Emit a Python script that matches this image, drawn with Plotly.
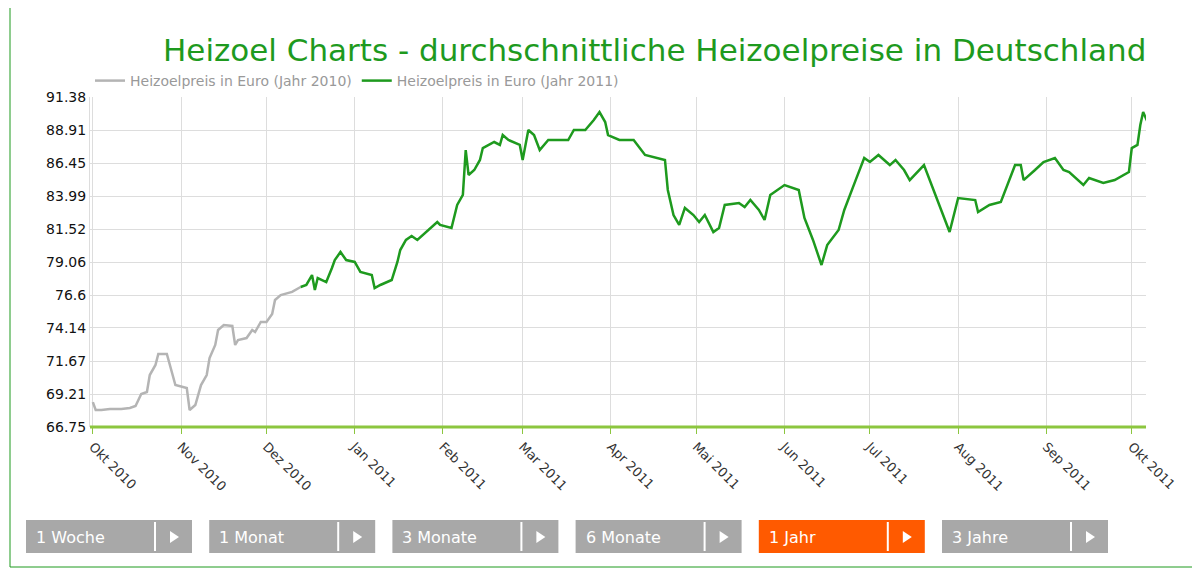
import plotly.graph_objects as go

dates_2010 = ["2010-10-01","2010-10-02","2010-10-04","2010-10-07","2010-10-11","2010-10-14","2010-10-16","2010-10-18","2010-10-20","2010-10-21","2010-10-23","2010-10-24","2010-10-27","2010-10-28","2010-10-30","2010-11-03","2010-11-04","2010-11-06","2010-11-08","2010-11-10","2010-11-11","2010-11-13","2010-11-14","2010-11-16","2010-11-19","2010-11-20","2010-11-21","2010-11-24","2010-11-26","2010-11-27","2010-11-29","2010-12-01","2010-12-03","2010-12-04","2010-12-06","2010-12-10","2010-12-13"]
vals_2010 = [68.61,68.02,68.02,68.09,68.09,68.17,68.32,69.21,69.36,70.63,71.38,72.20,72.20,71.38,69.88,69.66,68.02,68.39,69.88,70.63,71.90,72.87,73.99,74.36,74.29,72.87,73.24,73.39,73.99,73.84,74.59,74.59,75.18,76.23,76.60,76.83,77.20]

dates_2011 = ["2010-12-13","2010-12-15","2010-12-17","2010-12-18","2010-12-19","2010-12-22","2010-12-24","2010-12-25","2010-12-27","2010-12-29","2011-01-01","2011-01-03","2011-01-07","2011-01-08","2011-01-10","2011-01-14","2011-01-16","2011-01-17","2011-01-19","2011-01-21","2011-01-23","2011-01-26","2011-01-30","2011-01-31","2011-02-04","2011-02-06","2011-02-08","2011-02-09","2011-02-10","2011-02-12","2011-02-14","2011-02-15","2011-02-19","2011-02-21","2011-02-22","2011-02-24","2011-02-28","2011-03-01","2011-03-03","2011-03-05","2011-03-07","2011-03-10","2011-03-17","2011-03-19","2011-03-23","2011-03-26","2011-03-28","2011-03-30","2011-03-31","2011-04-04","2011-04-09","2011-04-13","2011-04-20","2011-04-21","2011-04-23","2011-04-25","2011-04-27","2011-04-30","2011-05-02","2011-05-04","2011-05-07","2011-05-09","2011-05-11","2011-05-16","2011-05-18","2011-05-20","2011-05-23","2011-05-25","2011-05-27","2011-06-01","2011-06-06","2011-06-08","2011-06-11","2011-06-14","2011-06-16","2011-06-20","2011-06-22","2011-06-26","2011-06-29","2011-07-01","2011-07-04","2011-07-08","2011-07-10","2011-07-13","2011-07-15","2011-07-20","2011-07-24","2011-07-27","2011-07-29","2011-08-01","2011-08-07","2011-08-08","2011-08-12","2011-08-16","2011-08-19","2011-08-21","2011-08-23","2011-08-24","2011-08-28","2011-08-31","2011-09-04","2011-09-07","2011-09-09","2011-09-14","2011-09-16","2011-09-21","2011-09-25","2011-09-28","2011-09-30","2011-10-01","2011-10-03","2011-10-04","2011-10-05","2011-10-07"]
vals_2011 = [77.20,77.35,78.09,76.97,77.87,77.57,78.62,79.21,79.81,79.21,79.07,78.32,78.09,77.12,77.35,77.72,79.07,79.96,80.71,81.01,80.71,81.30,82.05,81.83,81.60,83.32,84.07,87.42,85.56,85.93,86.68,87.57,88.02,87.80,88.54,88.17,87.80,86.68,88.92,88.54,87.42,88.17,88.17,88.92,88.92,89.66,90.26,89.51,88.54,88.17,88.17,87.05,86.68,84.44,82.57,81.83,83.10,82.57,82.05,82.57,81.30,81.60,83.32,83.47,83.17,83.69,82.95,82.20,84.07,84.81,84.44,82.35,80.71,78.84,80.33,81.45,82.95,85.18,86.83,86.53,87.05,86.30,86.68,85.93,85.18,86.30,84.07,82.35,81.30,83.84,83.69,82.80,83.32,83.54,85.18,86.30,86.30,85.18,85.93,86.53,86.83,85.93,85.78,84.81,85.33,84.96,85.18,85.56,85.78,87.57,87.80,89.29,90.26,89.29]

y_ticks = [66.75,69.21,71.67,74.14,76.6,79.06,81.52,83.99,86.45,88.91,91.38]
x_ticks = ["2010-10-01","2010-11-01","2010-12-01","2011-01-01","2011-02-01","2011-03-01","2011-04-01","2011-05-01","2011-06-01","2011-07-01","2011-08-01","2011-09-01","2011-10-01"]
x_labels = ["Okt 2010","Nov 2010","Dez 2010","Jan 2011","Feb 2011","Mar 2011","Apr 2011","Mai 2011","Jun 2011","Jul 2011","Aug 2011","Sep 2011","Okt 2011"]
buttons = ["1 Woche","1 Monat","3 Monate","6 Monate","1 Jahr","3 Jahre"]
active = "1 Jahr"

fig = go.Figure()
fig.add_trace(go.Scatter(x=dates_2010, y=vals_2010, mode="lines", line=dict(color="#b4b4b4", width=2.5),
                         name="Heizoelpreis in Euro (Jahr 2010)"))
fig.add_trace(go.Scatter(x=dates_2011, y=vals_2011, mode="lines", line=dict(color="#1e9a1e", width=2.5),
                         name="Heizoelpreis in Euro (Jahr 2011)"))

OFF = 8  # page body margin
FW, FH = 1200 - OFF, 569 - OFF
L, R, T, B = 90, 1146, 97, 427  # screen coords of plot area
W, H = R - L, B - T
def px(x): return (x - L) / W
def py(y): return (B - y) / H

shapes = [dict(type="line", xref="paper", yref="paper", x0=0, x1=1, y0=0, y1=0, line=dict(color="#8cc63f", width=3))]
annots = [dict(text="Heizoel Charts - durchschnittliche Heizoelpreise in Deutschland", xref="paper", yref="paper",
               x=px(1148), y=py(50), xanchor="right", yanchor="middle", showarrow=False,
               font=dict(size=31, color="#1e9a1e", family="DejaVu Sans"))]
for i, b in enumerate(buttons):
    x0 = 26 + i * 183.2
    x1 = x0 + 166
    col = "#ff5a00" if b == active else "#a8a8a8"
    shapes.append(dict(type="rect", xref="paper", yref="paper", x0=px(x0), x1=px(x1), y0=py(553), y1=py(520),
                       fillcolor=col, line=dict(width=0), layer="above"))
    shapes.append(dict(type="line", xref="paper", yref="paper", x0=px(x1 - 37), x1=px(x1 - 37), y0=py(551), y1=py(522),
                       line=dict(color="white", width=2)))
    tx = x1 - 18
    shapes.append(dict(type="path", xref="paper", yref="paper",
                       path=f"M {px(tx-4)},{py(531)} L {px(tx-4)},{py(543)} L {px(tx+5)},{py(537)} Z",
                       fillcolor="white", line=dict(width=0)))
    annots.append(dict(text=b, xref="paper", yref="paper", x=px(x0 + 8), y=py(537), xanchor="left", yanchor="middle",
                       showarrow=False, font=dict(size=16, color="white", family="DejaVu Sans")))
shapes.append(dict(type="rect", xref="paper", yref="paper", x0=px(10), x1=px(1199), y0=py(567), y1=py(-5),
                   line=dict(color="#1e9a1e", width=1)))

fig.update_layout(
    width=FW, height=FH,
    margin=dict(l=L - OFF, r=FW - (R - OFF), t=T - OFF, b=FH - (B - OFF)),
    paper_bgcolor="white", plot_bgcolor="white",
    font=dict(family="DejaVu Sans", size=13, color="#222"),
    showlegend=True,
    legend=dict(orientation="h", x=0, y=1.0, xanchor="left", yanchor="bottom",
                font=dict(size=14, color="#999"), itemwidth=30, tracegroupgap=0),
    xaxis=dict(type="date", range=["2010-09-30", "2011-10-06"], tickvals=x_ticks, ticktext=x_labels,
               tickangle=45, showgrid=True, gridcolor="#dddddd", ticks="outside", ticklen=6, tickcolor="#8cc63f",
               tickfont=dict(size=13, color="#333"), showline=False, zeroline=False),
    yaxis=dict(range=[66.75, 91.38], tickvals=y_ticks, ticktext=[str(v) for v in y_ticks],
               showgrid=True, gridcolor="#dddddd", zeroline=False, tickfont=dict(size=14, color="#111"),
               showline=True, linecolor="#dddddd"),
    shapes=shapes, annotations=annots,
)
fig.write_html("out.html")
